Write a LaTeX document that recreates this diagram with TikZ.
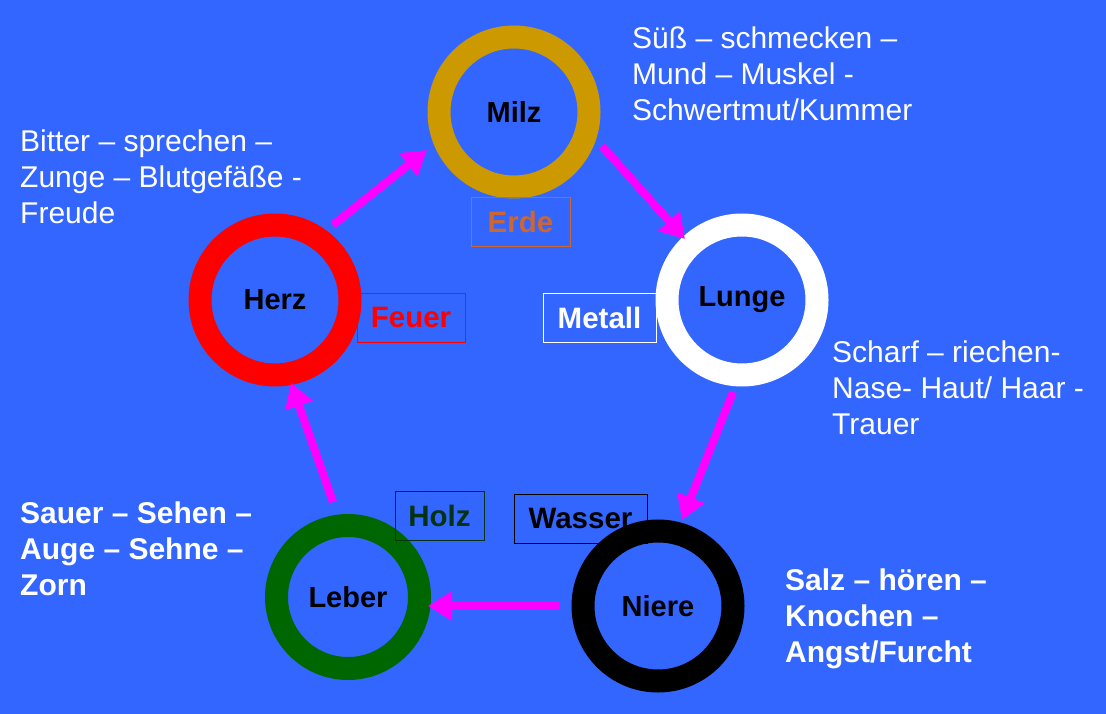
\documentclass[tikz,border=0pt]{standalone}
\usepackage{fontspec}
\setmainfont{Liberation Sans}
\usetikzlibrary{arrows.meta}
\definecolor{bg}{HTML}{3366FF}
\definecolor{erde}{HTML}{CC9900}
\definecolor{erdet}{HTML}{CC6633}
\definecolor{holz}{HTML}{006600}
\definecolor{holzt}{HTML}{003311}
\definecolor{mag}{HTML}{FF00FF}
\begin{document}
\begin{tikzpicture}[x=1pt,y=-1pt,
 ring/.style={circle,line width=23pt,minimum size=150pt,inner sep=0pt,font=\fontsize{29}{32}\selectfont\bfseries},
 elem/.style={draw,line width=0.8pt,minimum width=#1,minimum height=49pt,inner sep=0pt,font=\fontsize{29.5}{32}\selectfont\bfseries},
 desc/.style={anchor=north west,align=left,white,inner sep=0pt,font=\fontsize{30}{36}\selectfont},
 arr/.style={mag,line width=8pt,-{Triangle[width=28pt,length=24pt]}}]
\fill[bg] (0,0) rectangle (1106,714);
\useasboundingbox (0,0) rectangle (1106,714);
\node[ring,draw=erde] (milz) at (514,112) {Milz};
\node[ring,draw=white] (lunge) at (742,300) {Lunge};
\node[ring,draw=red] (herz) at (275,300) {Herz};
\node[ring,draw=holz,minimum size=143pt] (leber) at (348,597) {Leber};
\node[ring,draw=black] (niere) at (658,606) {Niere};
\node[elem=99pt,draw=erdet,text=erdet] (erde) at (520.5,222) {Erde};
\node[elem=108pt,draw=red,text=red] (feuer) at (411,317.5) {Feuer};
\node[elem=113pt,draw=white,text=white] (metall) at (599.5,317.5) {Metall};
\node[elem=89pt,draw=holzt,text=holzt] (holz) at (439.5,516) {Holz};
\node[elem=133pt,draw=black,text=black] (wasser) at (580.5,518.5) {Wasser};
\node[desc] (t1) at (632,27) {Süß – schmecken –\\Mund – Muskel -\\Schwertmut/Kummer};
\node[desc] (t2) at (20,130) {Bitter – sprechen –\\Zunge – Blutgefäße -\\Freude};
\node[desc] (t3) at (832,341) {Scharf – riechen-\\Nase- Haut/ Haar -\\Trauer};
\node[desc,font=\fontsize{30}{36}\selectfont\bfseries] (t4) at (20,502) {Sauer – Sehen –\\Auge – Sehne –\\Zorn};
\node[desc,font=\fontsize{30}{36}\selectfont\bfseries] (t5) at (785,569) {Salz – hören –\\Knochen –\\Angst/Furcht};
\coordinate (a1) at (333,225); \coordinate (b1) at (427,150);
\coordinate (a2) at (602,146); \coordinate (b2) at (685,239);
\coordinate (a3) at (733,392); \coordinate (b3) at (682,520);
\coordinate (a4) at (560,606); \coordinate (b4) at (428,606);
\coordinate (a5) at (333,502); \coordinate (b5) at (291,383);
\draw[arr] (a1) -- (b1);
\draw[arr] (a2) -- (b2);
\draw[arr] (a3) -- (b3);
\draw[arr] (a4) -- (b4);
\draw[arr] (a5) -- (b5);
\end{tikzpicture}
\end{document}
